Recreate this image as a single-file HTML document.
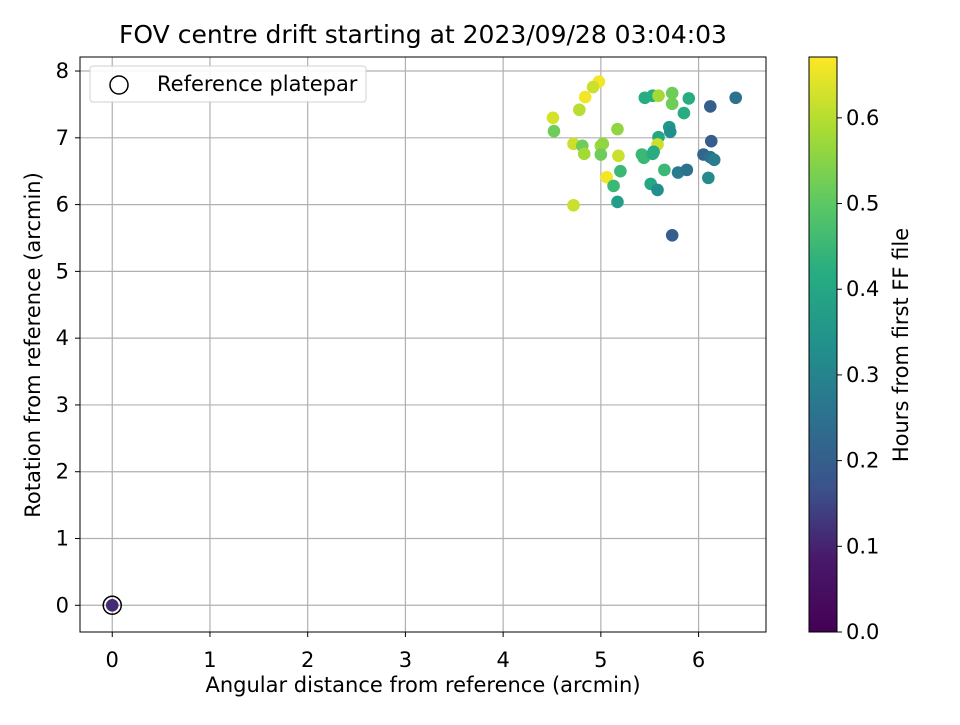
<!DOCTYPE html>
<html><head><meta charset="utf-8"><style>
body{margin:0;background:#fff;font-family:"Liberation Sans","DejaVu Sans",sans-serif;}
svg text{font-family:"DejaVu Sans","Liberation Sans",sans-serif;}
</style></head><body>
<svg id="chart" width="960" height="720" xmlns="http://www.w3.org/2000/svg">
<rect width="960" height="720" fill="#fff"/>
<text x="423" y="43" font-size="25" text-anchor="middle">FOV centre drift starting at 2023/09/28 03:04:03</text>
<g id="grid"></g><g id="points"></g><g id="axes"></g>
<g id="legend">
<rect x="90" y="66" width="276" height="36" rx="3" fill="#fff" stroke="#ccc" opacity="0.9"/>
<circle cx="119" cy="85" r="9" fill="none" stroke="#000" stroke-width="1.5"/>
<text x="157" y="91" font-size="21">Reference platepar</text>
</g>
<text x="423" y="692" font-size="21" text-anchor="middle">Angular distance from reference (arcmin)</text>
<text x="40" y="345" font-size="21" text-anchor="middle" transform="rotate(-90 40 345)">Rotation from reference (arcmin)</text>
<defs><linearGradient id="vir" x1="0" y1="1" x2="0" y2="0">
<stop offset="0" stop-color="#440154"/><stop offset="0.125" stop-color="#48186a"/><stop offset="0.25" stop-color="#3b528b"/><stop offset="0.375" stop-color="#2c728e"/><stop offset="0.5" stop-color="#21918c"/><stop offset="0.625" stop-color="#27ad81"/><stop offset="0.75" stop-color="#5ec962"/><stop offset="0.875" stop-color="#aadc32"/><stop offset="1" stop-color="#fde725"/>
</linearGradient></defs>
<rect x="809" y="57" width="28" height="575" fill="url(#vir)" stroke="#000" stroke-width="1"/>
<g id="cbticks"></g>
<text x="908" y="345" font-size="21" text-anchor="middle" transform="rotate(-90 908 345)">Hours from first FF file</text>
</svg>
<script>
const xTicks=[0,1,2,3,4,5,6];
const yTicks=[0,1,2,3,4,5,6,7,8];
const cbTicks=[0.0,0.1,0.2,0.3,0.4,0.5,0.6];
const xVals=[4.98,4.92,4.84,4.78,4.51,4.52,4.72,4.81,4.83,5.0,5.02,5.0,5.17,5.18,5.06,5.2,5.13,5.17,4.72,5.45,5.53,5.59,5.73,5.73,5.9,5.85,5.7,5.71,5.59,5.58,5.54,5.42,5.44,5.53,5.65,5.51,5.58,5.79,5.88,6.12,6.38,6.13,6.05,6.12,6.16,6.1,5.73,0];
const yVals=[7.84,7.76,7.61,7.42,7.30,7.10,6.91,6.88,6.76,6.88,6.91,6.75,7.13,6.73,6.41,6.50,6.28,6.04,5.99,7.60,7.63,7.63,7.67,7.51,7.59,7.37,7.16,7.09,7.01,6.90,6.79,6.75,6.70,6.76,6.52,6.31,6.22,6.48,6.52,7.47,7.60,6.95,6.75,6.71,6.67,6.40,5.54,0];
const hours=[0.66,0.62,0.66,0.6,0.63,0.52,0.62,0.52,0.58,0.58,0.56,0.52,0.56,0.62,0.66,0.45,0.45,0.37,0.62,0.42,0.42,0.58,0.52,0.52,0.42,0.42,0.35,0.33,0.4,0.62,0.4,0.45,0.45,0.42,0.45,0.4,0.33,0.28,0.25,0.2,0.25,0.2,0.22,0.25,0.28,0.32,0.2,0.11];
const X0=80,X1=766,Y0=57,Y1=632,xmin=-0.33,xmax=6.69,ymin=-0.40,ymax=8.21,hmax=0.671;
const sx=v=>X0+(v-xmin)/(xmax-xmin)*(X1-X0);
const sy=v=>Y1-(v-ymin)/(ymax-ymin)*(Y1-Y0);
const sc=v=>Y1-v/hmax*(Y1-Y0);
const NS='http://www.w3.org/2000/svg';
const stops=[[68,1,84],[72,24,106],[59,82,139],[44,114,142],[33,145,140],[39,173,129],[94,201,98],[170,220,50],[253,231,37]];
function vir(h){let t=Math.max(0,Math.min(1,h/hmax))*8;let i=Math.min(7,Math.floor(t)),f=t-i;const a=stops[i],b=stops[i+1];return 'rgb('+a.map((c,k)=>Math.round(c+(b[k]-c)*f)).join(',')+')';}
function mk(tag,at,parent){const e=document.createElementNS(NS,tag);for(const k in at)e.setAttribute(k,at[k]);parent.appendChild(e);return e;}
const grid=document.getElementById('grid'),axes=document.getElementById('axes'),pts=document.getElementById('points'),cb=document.getElementById('cbticks');
xTicks.forEach(t=>{const x=sx(t);
const g=mk('line',{x1:x,x2:x,y1:Y0,y2:Y1,stroke:'#b0b0b0','stroke-width':1.2},grid);


mk('line',{x1:x,x2:x,y1:Y1,y2:Y1+5,stroke:'#000'},axes);
const l=mk('text',{x:x,y:Y1+35,'font-size':21,'text-anchor':'middle'},axes);l.textContent=t;

});
yTicks.forEach(t=>{const y=sy(t);
const g=mk('line',{x1:X0,x2:X1,y1:y,y2:y,stroke:'#b0b0b0','stroke-width':1.2},grid);


mk('line',{x1:X0-5,x2:X0,y1:y,y2:y,stroke:'#000'},axes);
const l=mk('text',{x:X0-11,y:y+7,'font-size':21,'text-anchor':'end'},axes);l.textContent=t;

});
mk('rect',{x:X0,y:Y0,width:X1-X0,height:Y1-Y0,fill:'none',stroke:'#000','stroke-width':1},axes);
xVals.forEach((v,i)=>{const last=i===xVals.length-1;
if(last){const r=mk('circle',{cx:sx(v),cy:sy(yVals[i]),r:9,fill:'none',stroke:'#000','stroke-width':1.5},pts);

}
const c=mk('circle',{cx:sx(v),cy:sy(yVals[i]),r:6.3,fill:vir(hours[i])},pts);

});
cbTicks.forEach(t=>{const y=sc(t);
mk('line',{x1:837,x2:842,y1:y,y2:y,stroke:'#000'},cb);
const l=mk('text',{x:846,y:y+7,'font-size':21},cb);l.textContent=t.toFixed(1);

});
</script>
</body></html>
